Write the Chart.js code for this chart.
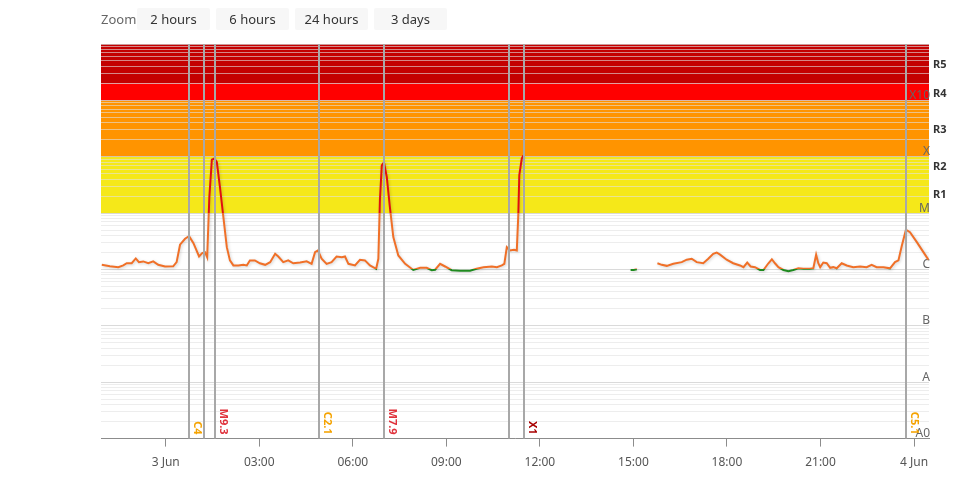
<!DOCTYPE html>
<html>
<head>
<meta charset="utf-8">
<title>X-ray flux</title>
<script src="https://cdn.jsdelivr.net/npm/chart.js@4.4.1/dist/chart.umd.min.js"></script>
<style>
  body { margin: 0; background: #fff; font-family: "Segoe UI", "Noto Sans", sans-serif; }
  #wrap { position: relative; width: 969px; height: 489px; }
  #zoom { position: absolute; left: 0; top: 0; width: 969px; height: 40px; font-size: 13px; color: #666; z-index: 2; }
  #zoom span { position: absolute; left: 101px; top: 10px; }
  #zoom button { position: absolute; top: 8px; width: 73px; height: 22px; border: 0; border-radius: 2px; background: #f7f7f7; color: #333; font: 13px "Segoe UI", "Noto Sans", sans-serif; padding: 0; }
  #chart { position: absolute; left: 0; top: 0; }
</style>
</head>
<body>
<div id="wrap">
  <div id="zoom">
    <span>Zoom</span>
    <button style="left:137px">2 hours</button>
    <button style="left:216px">6 hours</button>
    <button style="left:295px">24 hours</button>
    <button style="left:374px">3 days</button>
  </div>
  <canvas id="chart" width="969" height="489"></canvas>
</div>
<script>
// hours relative to 3 Jun 00:00, flux in W/m2 (null = data gap)
const hours = [
  -2.05, -1.79, -1.52, -1.36, -1.25, -1.09, -0.96, -0.86, -0.72, -0.56, -0.40, -0.24, -0.02, 0.24, 0.35,
  0.46, 0.62, 0.75, 0.89, 1.07, 1.17, 1.26, 1.33, 1.40, 1.48, 1.56, 1.64, 1.74, 1.85, 1.96,
  2.06, 2.17, 2.33, 2.49, 2.60, 2.70, 2.86, 3.02, 3.19, 3.35, 3.51, 3.61, 3.77, 3.93, 4.09,
  4.31, 4.52, 4.68, 4.79, 4.88, 5.00, 5.16, 5.32, 5.48, 5.65, 5.75, 5.86, 6.07, 6.23, 6.39,
  6.55, 6.75, 6.82, 6.87, 6.93, 7.00, 7.09, 7.19, 7.30, 7.46, 7.68, 7.94, 8.16, 8.37, 8.53,
  8.64, 8.80, 8.96, 9.17, 9.44, 9.76, 9.97, 10.19, 10.46, 10.62, 10.78, 10.86, 10.94, 11.04, 11.17,
  11.26, 11.31, 11.34, 11.42, 11.47, 11.60, 14.91, 15.01, 15.11, 15.30,
  15.77, 15.91, 16.07, 16.28, 16.55, 16.71, 16.87, 17.03, 17.24, 17.40, 17.56, 17.67, 17.78, 17.99, 18.20,
  18.42, 18.53, 18.65, 18.76, 18.90, 19.06, 19.17, 19.33, 19.44, 19.54, 19.65, 19.81, 19.97, 20.13, 20.29,
  20.45, 20.66, 20.77, 20.86, 20.93, 20.99, 21.09, 21.20, 21.31, 21.41, 21.52, 21.68, 21.84, 22.05, 22.27,
  22.48, 22.64, 22.80, 23.02, 23.23, 23.39, 23.50, 23.61, 23.74, 23.87, 24.09, 24.30, 24.46
];
const flux = [
  1.21e-6, 1.14e-6, 1.10e-6, 1.18e-6, 1.29e-6, 1.29e-6, 1.57e-6, 1.35e-6, 1.39e-6, 1.29e-6, 1.39e-6, 1.21e-6, 1.13e-6, 1.14e-6, 1.35e-6,
  2.75e-6, 3.51e-6, 3.90e-6, 2.93e-6, 1.70e-6, 1.95e-6, 2.03e-6, 1.65e-6, 1.92e-5, 8.9e-5, 9.3e-5, 8.05e-5, 2.9e-5, 8.5e-6, 2.49e-6,
  1.45e-6, 1.18e-6, 1.18e-6, 1.21e-6, 1.18e-6, 1.45e-6, 1.45e-6, 1.29e-6, 1.21e-6, 1.35e-6, 1.90e-6, 1.70e-6, 1.35e-6, 1.45e-6, 1.29e-6,
  1.33e-6, 1.40e-6, 1.26e-6, 2.03e-6, 2.18e-6, 1.55e-6, 1.26e-6, 1.35e-6, 1.70e-6, 1.65e-6, 1.70e-6, 1.26e-6, 1.18e-6, 1.49e-6, 1.45e-6,
  1.18e-6, 1.03e-6, 1.55e-6, 1.68e-5, 7.0e-5, 7.9e-5, 4.4e-5, 1.28e-5, 3.75e-6, 1.77e-6, 1.26e-6, 0.98e-6, 1.07e-6, 1.07e-6, 0.97e-6,
  0.99e-6, 1.26e-6, 1.13e-6, 0.97e-6, 0.95e-6, 0.95e-6, 1.03e-6, 1.10e-6, 1.13e-6, 1.10e-6, 1.18e-6, 1.26e-6, 2.49e-6, 2.18e-6, 2.24e-6,
  2.18e-6, 0.98e-5, 4.7e-5, 9.3e-5, 1.06e-4, null, 0.98e-6, 0.98e-6, 1.01e-6, null,
  1.29e-6, 1.21e-6, 1.16e-6, 1.26e-6, 1.35e-6, 1.49e-6, 1.55e-6, 1.35e-6, 1.29e-6, 1.55e-6, 1.90e-6, 2.00e-6, 1.83e-6, 1.49e-6, 1.29e-6,
  1.18e-6, 1.10e-6, 1.33e-6, 1.13e-6, 1.10e-6, 0.98e-6, 0.98e-6, 1.29e-6, 1.52e-6, 1.29e-6, 1.10e-6, 0.98e-6, 0.93e-6, 0.98e-6, 1.05e-6,
  1.03e-6, 1.03e-6, 1.05e-6, 1.83e-6, 1.29e-6, 1.10e-6, 1.33e-6, 1.29e-6, 1.07e-6, 1.10e-6, 1.05e-6, 1.29e-6, 1.18e-6, 1.10e-6, 1.13e-6,
  1.10e-6, 1.21e-6, 1.10e-6, 1.10e-6, 1.05e-6, 1.35e-6, 1.45e-6, 2.67e-6, 5.08e-6, 4.60e-6, 3.06e-6, 2.03e-6, 1.49e-6
];

// flare markers
const flareHours = [0.76, 1.23, 1.58, 4.92, 6.99, 11.01, 11.48, 23.75];
const flareLabels = ['C4', '', 'M9.3', 'C2.1', 'M7.9', '', 'X1', 'C5.1'];

// axes
const xTickHours = [0, 3, 6, 9, 12, 15, 18, 21, 24];
const xTickLabels = ['3 Jun', '03:00', '06:00', '09:00', '12:00', '15:00', '18:00', '21:00', '4 Jun'];
const classExps = [-9, -8, -7, -6, -5, -4, -3];
const classLabels = ['A0', 'A', 'B', 'C', 'M', 'X', 'X10'];

// radio blackout scale
const rLabels = ['R1', 'R2', 'R3', 'R4', 'R5'];
const rBounds = [1e-5, 5e-5, 1e-4, 1e-3, 2e-3, 1e-2];
const bandBounds = [1e-5, 1e-4, 1e-3, 2e-3, 1e-2];
const bandColors = ['#f5e819', '#ff9400', '#ff0000', '#c40000'];

const ORANGE = '#f07028', RED = '#e01010', GREEN = '#1f8a1f';
const labelColor = { C: '#f5a300', M: '#e0323c', X: '#a80000' };

const bandsPlugin = {
  id: 'bands',
  beforeDraw(chart) {
    const { ctx, chartArea: a, scales: { y } } = chart;
    ctx.save();
    for (let i = 0; i < bandColors.length; i++) {
      const top = y.getPixelForValue(bandBounds[i + 1]);
      const bot = y.getPixelForValue(bandBounds[i]);
      ctx.fillStyle = bandColors[i];
      ctx.fillRect(a.left, top, a.right - a.left, bot - top);
    }
    ctx.restore();
  },
  afterDraw(chart) {
    const { ctx, chartArea: a, scales: { y } } = chart;
    ctx.save();
    ctx.font = 'bold 11px "Segoe UI", "Noto Sans", sans-serif';
    ctx.fillStyle = '#333';
    ctx.textAlign = 'left';
    ctx.textBaseline = 'middle';
    rLabels.forEach((r, i) => {
      const mid = Math.sqrt(rBounds[i] * rBounds[i + 1]);
      ctx.fillText(r, a.right + 4, y.getPixelForValue(mid) + 1.5);
    });
    ctx.restore();
  }
};

const shadowPlugin = {
  id: 'shadow',
  beforeDatasetDraw(chart) {
    const ctx = chart.ctx;
    ctx.save();
    ctx.shadowColor = 'rgba(0,0,0,0.18)';
    ctx.shadowBlur = 3;
    ctx.shadowOffsetX = 1;
    ctx.shadowOffsetY = 1;
  },
  afterDatasetDraw(chart) {
    chart.ctx.restore();
  }
};

const flarePlugin = {
  id: 'flares',
  afterDatasetsDraw(chart) {
    const { ctx, chartArea: a, scales: { x } } = chart;
    ctx.save();
    flareHours.forEach((h, i) => {
      const px = Math.round(x.getPixelForValue(h));
      ctx.strokeStyle = '#a8a8a8';
      ctx.lineWidth = 2;
      ctx.beginPath();
      ctx.moveTo(px, a.top);
      ctx.lineTo(px, a.bottom);
      ctx.stroke();
      const lbl = flareLabels[i];
      if (!lbl) return;
      ctx.save();
      ctx.translate(px + 3, a.bottom - 4);
      ctx.rotate(Math.PI / 2);
      ctx.font = 'bold 11px "Segoe UI", "Noto Sans", sans-serif';
      ctx.fillStyle = labelColor[lbl[0]];
      ctx.textAlign = 'right';
      ctx.textBaseline = 'bottom';
      ctx.fillText(lbl, 0, 0);
      ctx.restore();
    });
    ctx.restore();
  }
};

function zoneGradient(context) {
  const chart = context.chart;
  const a = chart.chartArea;
  if (!a || !chart.scales.y) return ORANGE;
  const y = chart.scales.y;
  const h = a.bottom - a.top;
  const pM = (y.getPixelForValue(1e-5) - a.top) / h;
  const pC = (y.getPixelForValue(1e-6) - a.top) / h;
  const g = chart.ctx.createLinearGradient(0, a.top, 0, a.bottom);
  g.addColorStop(0, RED);
  g.addColorStop(pM, RED);
  g.addColorStop(pM, ORANGE);
  g.addColorStop(pC, ORANGE);
  g.addColorStop(pC, GREEN);
  g.addColorStop(1, GREEN);
  return g;
}

new Chart(document.getElementById('chart'), {
  type: 'line',
  data: {
    datasets: [{
      label: 'GOES X-ray flux',
      data: hours.map((h, i) => ({ x: h, y: flux[i] })),
      borderColor: zoneGradient,
      borderWidth: 2,
      pointRadius: 0,
      tension: 0,
      spanGaps: false,
      fill: false
    }]
  },
  options: {
    responsive: false,
    animation: false,
    layout: { padding: { left: 101, right: 40, top: 44, bottom: 10 } },
    plugins: { legend: { display: false }, tooltip: { enabled: false } },
    scales: {
      x: {
        type: 'linear',
        min: -2.075,
        max: 24.48,
        afterBuildTicks: s => { s.ticks = xTickHours.map(v => ({ value: v })); },
        grid: { drawOnChartArea: false, color: '#8c8c8c', tickLength: 8 },
        border: { color: '#8c8c8c', width: 1 },
        ticks: {
          autoSkip: false, maxRotation: 0, padding: 9, color: '#555',
          font: { size: 12, family: '"Segoe UI", "Noto Sans", sans-serif' },
          callback: (v, i) => xTickLabels[i]
        }
      },
      y: {
        type: 'logarithmic',
        position: 'right',
        min: 1e-9,
        max: 1e-2,
        afterFit: s => { s.width = 0; },
        afterBuildTicks: s => {
          const t = [];
          for (let e = -9; e < -2; e++) {
            for (let m = 1; m <= 9; m++) t.push({ value: m * Math.pow(10, e) });
          }
          t.push({ value: 1e-2 });
          s.ticks = t;
        },
        grid: {
          drawTicks: false,
          color: c => (c.tick && Math.abs(Math.log10(c.tick.value) % 1) < 1e-6) ? 'rgba(205,205,205,0.75)' : 'rgba(225,225,225,0.6)'
        },
        border: { display: false },
        ticks: {
          mirror: true, padding: 1, autoSkip: false, labelOffset: -5, color: '#666',
          font: { size: 12, family: '"Segoe UI", "Noto Sans", sans-serif' },
          callback: v => {
            const e = Math.round(Math.log10(v));
            const i = classExps.indexOf(e);
            return (i >= 0 && Math.abs(v - Math.pow(10, e)) < Math.pow(10, e) * 1e-6) ? classLabels[i] : '';
          }
        }
      }
    }
  },
  plugins: [bandsPlugin, shadowPlugin, flarePlugin]
});
</script>
</body>
</html>
